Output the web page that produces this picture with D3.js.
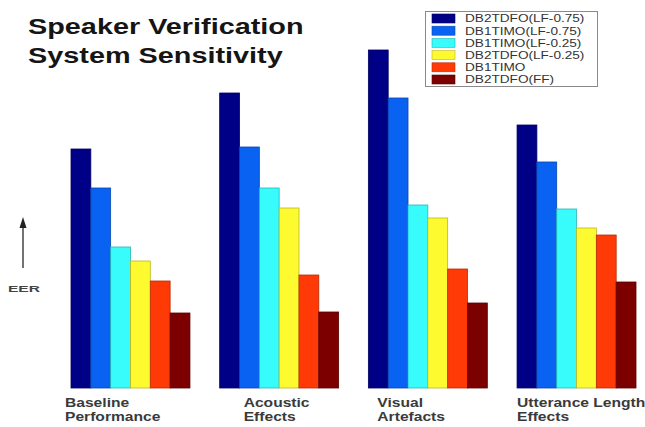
<!DOCTYPE html>
<html>
<head>
<meta charset="utf-8">
<script src="https://cdn.jsdelivr.net/npm/d3@7"></script>
<style>
  html, body { margin: 0; padding: 0; background: #fff; }
  svg { display: block; }
  text { font-family: "Liberation Sans", Arial, sans-serif; }
</style>
</head>
<body>
<svg id="chart" width="645" height="427"></svg>
<script>
// ---- data (relative EER) ----
const categories = [["Baseline", "Performance"], ["Acoustic", "Effects"], ["Visual", "Artefacts"], ["Utterance Length", "Effects"]];
const seriesNames = ["DB2TDFO(LF-0.75)", "DB1TIMO(LF-0.75)", "DB1TIMO(LF-0.25)", "DB2TDFO(LF-0.25)", "DB1TIMO", "DB2TDFO(FF)"];
const seriesColors = ["#000086", "#0a62f2", "#38fbfb", "#fdfb30", "#ff3a06", "#7c0000"];
const baseline   = [239, 200, 141, 127, 107, 75];
const acoustic   = [295, 241, 200, 180, 113, 76];
const visual     = [338, 290, 183, 170, 119, 85];
const utterance  = [263, 226, 179, 160, 153, 106];
const values = [baseline, acoustic, visual, utterance];
const titleLines = ["Speaker Verification", "System Sensitivity"];
const yLabel = "EER";

const svg = d3.select("#chart");

// horizontally stretched text helper
function stretch(sel, k) {
  sel.each(function () {
    const w = this.getComputedTextLength();
    d3.select(this).attr("textLength", w * k).attr("lengthAdjust", "spacingAndGlyphs");
  });
}

const x0 = d3.scaleBand().domain(d3.range(categories.length)).range([71, 636]).paddingInner(0.2).paddingOuter(0);
const x1 = d3.scaleBand().domain(d3.range(seriesNames.length)).range([0, x0.bandwidth()]).padding(0);
const y = d3.scaleLinear().domain([0, 340]).range([388, 48]);

// bars
const groups = svg.append("g").selectAll("g").data(values).join("g")
  .attr("transform", (d, i) => `translate(${x0(i)},0)`);
groups.selectAll("rect").data(d => d).join("rect")
  .attr("x", (d, j) => x1(j))
  .attr("y", d => y(d))
  .attr("width", x1.bandwidth())
  .attr("height", d => y(0) - y(d))
  .attr("fill", (d, j) => seriesColors[j])
  .attr("stroke", (d, j) => d3.color(seriesColors[j]).darker(0.9))
  .attr("stroke-width", 0.8);

// category labels
categories.forEach((lines, i) => {
  lines.forEach((t, li) => {
    svg.append("text")
      .attr("x", x0(i) + [-6, 24, 9, 0][i])
      .attr("y", 407 + li * 14)
      .attr("font-size", 12)
      .attr("font-weight", "bold")
      .attr("fill", "#3a3a3a")
      .text(t)
      .call(stretch, 1.3);
  });
});

// title
titleLines.forEach((t, i) => {
  svg.append("text")
    .attr("x", 28).attr("y", 34 + i * 29)
    .attr("font-size", 22).attr("font-weight", "bold")
    .attr("fill", "#151515")
    .text(t)
    .call(stretch, 1.31);
});

// EER arrow
svg.append("defs").append("marker")
  .attr("id", "ah").attr("viewBox", "0 0 10 10").attr("refX", 5).attr("refY", 10)
  .attr("markerWidth", 6).attr("markerHeight", 7).attr("orient", "auto-start-reverse")
  .append("path").attr("d", "M0,10 L5,0 L10,10 Z").attr("fill", "#222");
svg.append("line")
  .attr("x1", 23).attr("x2", 23).attr("y1", 268).attr("y2", 226)
  .attr("stroke", "#444").attr("stroke-width", 1.5);
svg.append("path").attr("d", "M19.5,228 L23,217 L26.5,228 Z").attr("fill", "#222");
svg.append("text")
  .attr("x", 8).attr("y", 292)
  .attr("font-size", 9).attr("font-weight", "bold").attr("fill", "#444")
  .text(yLabel)
  .attr("textLength", 32).attr("lengthAdjust", "spacingAndGlyphs");

// legend
const lg = svg.append("g");
lg.append("rect").attr("x", 425.5).attr("y", 11.5).attr("width", 172).attr("height", 75)
  .attr("fill", "#fff").attr("stroke", "#8a8a8a").attr("stroke-width", 1);
seriesNames.forEach((n, j) => {
  const cy = 18.5 + j * 12.2;
  lg.append("rect").attr("x", 432).attr("y", cy - 4.5).attr("width", 23).attr("height", 9)
    .attr("fill", seriesColors[j]).attr("stroke", d3.color(seriesColors[j]).darker(0.9)).attr("stroke-width", 0.6);
  lg.append("text").attr("x", 465).attr("y", cy + 3.8)
    .attr("font-size", 10).attr("fill", "#333")
    .text(n)
    .call(stretch, 1.36);
});
</script>
</body>
</html>
